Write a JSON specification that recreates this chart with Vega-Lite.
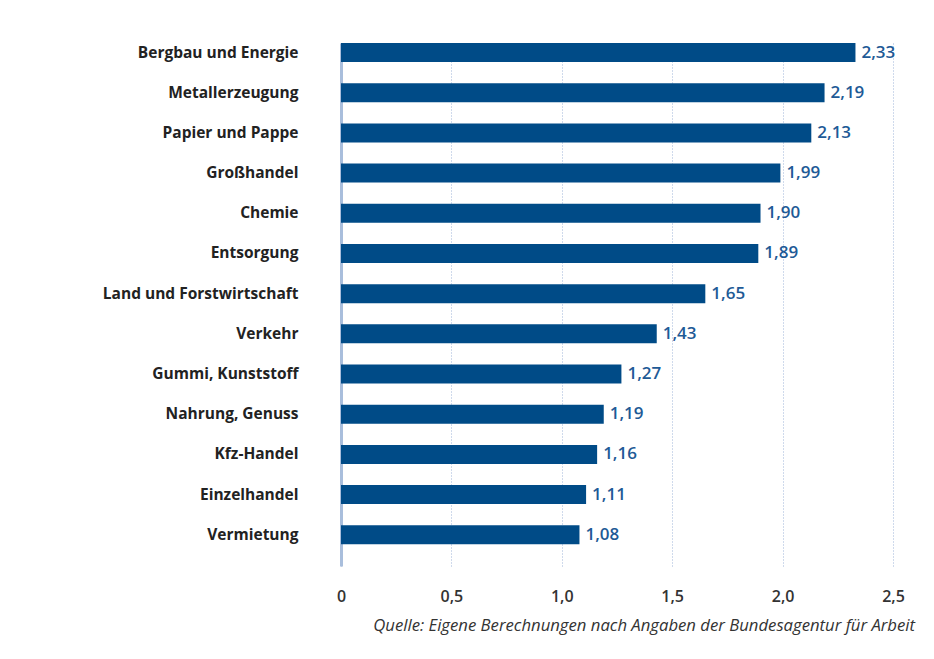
{
  "$schema": "https://vega.github.io/schema/vega-lite/v6.json",
  "width": 552,
  "height": 523,
  "autosize": {"type": "none"},
  "padding": {"left": 341, "top": 43, "right": 41, "bottom": 93},
  "background": "white",
  "config": {
    "view": {"stroke": null},
    "font": "Open Sans",
    "locale": {"number": {"decimal": ",", "thousands": ".", "grouping": [3], "currency": ["", " €"]}}
  },
  "title": {
    "text": "Quelle: Eigene Berechnungen nach Angaben der Bundesagentur für Arbeit",
    "orient": "bottom",
    "anchor": "end",
    "frame": "group",
    "dx": 22,
    "offset": 14,
    "fontSize": 16.7,
    "fontStyle": "italic",
    "fontWeight": "normal",
    "color": "#333333",
    "font": "Open Sans"
  },
  "data": {
    "values": [
      {"branche": "Bergbau und Energie", "wert": 2.33},
      {"branche": "Metallerzeugung", "wert": 2.19},
      {"branche": "Papier und Pappe", "wert": 2.13},
      {"branche": "Großhandel", "wert": 1.99},
      {"branche": "Chemie", "wert": 1.90},
      {"branche": "Entsorgung", "wert": 1.89},
      {"branche": "Land und Forstwirtschaft", "wert": 1.65},
      {"branche": "Verkehr", "wert": 1.43},
      {"branche": "Gummi, Kunststoff", "wert": 1.27},
      {"branche": "Nahrung, Genuss", "wert": 1.19},
      {"branche": "Kfz-Handel", "wert": 1.16},
      {"branche": "Einzelhandel", "wert": 1.11},
      {"branche": "Vermietung", "wert": 1.08}
    ]
  },
  "encoding": {
    "y": {
      "field": "branche",
      "type": "nominal",
      "sort": null,
      "scale": {"paddingInner": 0.527, "paddingOuter": 0.27, "align": 0},
      "axis": {
        "title": null,
        "ticks": false,
        "domainColor": "#a9bedc",
        "domainWidth": 3,
        "labelPadding": 43,
        "labelLimit": 320,
        "labelFontSize": 15.5,
        "labelFontWeight": "bold",
        "labelColor": "#222222",
        "labelFont": "Open Sans"
      }
    },
    "x": {
      "field": "wert",
      "type": "quantitative",
      "scale": {"domain": [0, 2.5], "nice": false},
      "axis": {
        "title": null,
        "values": [0, 0.5, 1, 1.5, 2, 2.5],
        "labelExpr": "datum.value == 0 ? '0' : replace(format(datum.value, '.1f'), '.', ',')",
        "labelFlush": false,
        "domain": false,
        "ticks": false,
        "grid": true,
        "gridColor": "#9fb4d8",
        "gridDash": [1, 2],
        "gridWidth": 1,
        "labelPadding": 22,
        "labelFontSize": 16,
        "labelFontWeight": 600,
        "labelColor": "#333333",
        "labelFont": "Open Sans"
      }
    }
  },
  "layer": [
    {"mark": {"type": "bar", "color": "#004b87"}},
    {
      "mark": {"type": "text", "align": "left", "baseline": "middle", "dx": 6, "fontSize": 17, "fontWeight": 600, "color": "#1e5a96", "font": "Open Sans"},
      "encoding": {"text": {"field": "wert", "type": "quantitative", "format": ".2f"}}
    }
  ]
}
